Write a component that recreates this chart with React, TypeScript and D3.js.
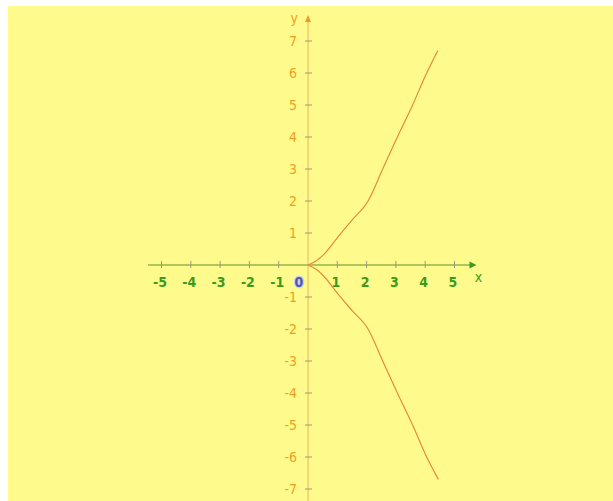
import React from "react";
import * as d3 from "d3";

// Tick values
const xTicks = [-5, -4, -3, -2, -1, 1, 2, 3, 4, 5];
const yTicks = [-7, -6, -5, -4, -3, -2, -1, 1, 2, 3, 4, 5, 6, 7];

// Curve: upper branch
const upperX = [0, 0.3, 0.55, 1.0, 1.5, 2.05, 2.55, 3.05, 3.57, 4.05, 4.43];
const upperY = [0, 0.14, 0.34, 0.85, 1.4, 2, 3, 4, 5, 6, 6.7];
// Curve: lower branch
const lowerX = [0, 0.3, 0.55, 1.0, 1.5, 2.05, 2.55, 3.05, 3.57, 4.05, 4.45];
const lowerY = [0, -0.15, -0.36, -0.88, -1.42, -2, -3, -4, -5, -6, -6.7];

const W = 605;
const H = 495;
// svg placed at page (8,6)
const x = d3.scaleLinear().domain([-5, 5]).range([161.5 - 8, 454.5 - 8]);
const y = d3.scaleLinear().domain([-7, 7]).range([489 - 6, 41 - 6]);

export default function App() {
  const x0 = x(0);
  const y0 = y(0);
  const line = d3
    .line<[number, number]>()
    .x((d) => x(d[0]))
    .y((d) => y(d[1]))
    .curve(d3.curveMonotoneX);
  const upper = upperX.map((v, i) => [v, upperY[i]] as [number, number]);
  const lower = lowerX.map((v, i) => [v, lowerY[i]] as [number, number]);
  const font = "'Liberation Sans Narrow', 'DejaVu Sans Condensed', 'Liberation Sans', sans-serif";
  return (
    <svg
      width={W}
      height={H}
      style={{ position: "absolute", left: 8, top: 6, display: "block" }}
    >
      <rect x={0} y={0} width={W} height={H} fill="#FFFA8C" />
      {/* y axis */}
      <line x1={x0} x2={x0} y1={14} y2={H} stroke="#EFB45A" strokeWidth={1} />
      <path d={`M${x0},${9} L${x0 - 3},${16} L${x0 + 3},${16} Z`} fill="#EE9A2A" />
      <text x={x0 - 10} y={17} fontFamily={font} fontSize={14} fill="#F0A020" textAnchor="end">
        y
      </text>
      {/* x axis */}
      <line x1={140} x2={x(5) + 16} y1={y0} y2={y0} stroke="#94B452" strokeWidth={1.5} />
      <path
        d={`M${x(5) + 22},${y0} L${x(5) + 15},${y0 - 3.5} L${x(5) + 15},${y0 + 3.5} Z`}
        fill="#3C9A1E"
      />
      <text x={x(5) + 24} y={y0 + 17} fontFamily={font} fontSize={14} fill="#3C9A1E" textAnchor="middle">
        x
      </text>
      {/* x ticks */}
      {xTicks.map((t) => (
        <g key={"xt" + t}>
          <line x1={x(t)} x2={x(t)} y1={y0 - 4} y2={y0 + 3} stroke="#9A9A88" strokeWidth={1} />
          <text
            x={x(t) - 1.5}
            y={y0 + 22}
            fontFamily={font}
            fontSize={14}
            fontWeight="bold"
            fill="#3C9A1E"
            textAnchor="middle"
          >
            {t}
          </text>
        </g>
      ))}
      {/* origin label */}
      <text
        x={x0 - 9}
        y={y0 + 22}
        fontFamily={font}
        fontSize={14}
        fontWeight="bold"
        fill="#5656A8"
        stroke="#C8D0F0"
        strokeWidth={2.5}
        paintOrder="stroke"
        textAnchor="middle"
      >
        0
      </text>
      {/* y ticks */}
      {yTicks.map((t) => (
        <g key={"yt" + t}>
          <line x1={x0 - 3} x2={x0 + 4} y1={y(t)} y2={y(t)} stroke="#9A9A88" strokeWidth={1} />
          <text
            x={x0 - 11}
            y={y(t) + 5}
            fontFamily={font}
            fontSize={14}
            fill="#F0A020"
            textAnchor="end"
          >
            {t}
          </text>
        </g>
      ))}
      {/* curve */}
      <path d={line(upper) || ""} fill="none" stroke="#E48A40" strokeWidth={1.2} />
      <path d={line(lower) || ""} fill="none" stroke="#E48A40" strokeWidth={1.2} />
    </svg>
  );
}
